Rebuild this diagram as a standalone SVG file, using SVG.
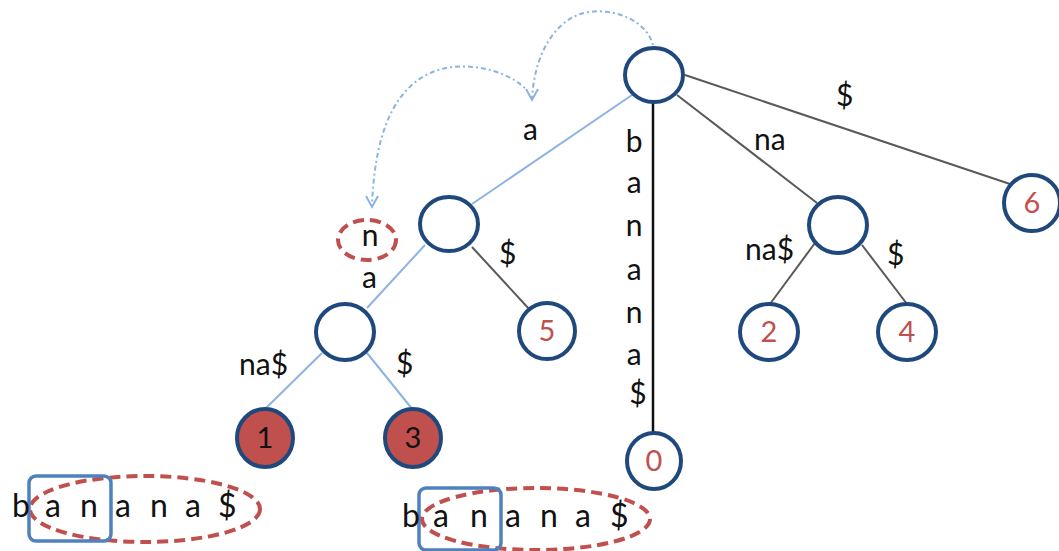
<svg xmlns="http://www.w3.org/2000/svg" width="1059" height="551" viewBox="0 0 1059 551">
  <style>
    .node { fill: #ffffff; stroke: #1F497D; stroke-width: 4; }
    .hit { fill: #C0504D; stroke: #1F497D; stroke-width: 4; }
    .num { font-family: Lato, "Liberation Sans", sans-serif; font-size: 29px; fill: #C0504D; text-anchor: middle; }
    .numk { font-family: Lato, "Liberation Sans", sans-serif; font-size: 29px; fill: #111111; text-anchor: middle; }
    .lbl { font-family: Lato, "Liberation Sans", sans-serif; font-size: 30px; fill: #111111; }
    .word { font-family: Lato, "Liberation Sans", sans-serif; font-size: 32px; fill: #111111; }
    .blue { stroke: #8DB3E2; stroke-width: 2; fill: none; }
    .gray { stroke: #595959; stroke-width: 2; fill: none; }
    .link { stroke: #8DB3E2; stroke-width: 2; fill: none; stroke-dasharray: 2 3 5 3; }
    .ring { fill: none; stroke: #C0504D; stroke-width: 4; stroke-dasharray: 11 6; }
    .box { fill: none; stroke: #4F81BD; stroke-width: 3.5; }
  </style>

  <!-- tree edges -->
  <g id="edges">
    <line class="blue" x1="632" y1="95" x2="472" y2="204"/>
    <line class="blue" x1="425" y1="245" x2="367" y2="308"/>
    <line class="blue" x1="322" y1="353" x2="264" y2="410"/>
    <line class="blue" x1="367" y1="353" x2="413" y2="410"/>
    <line class="gray" x1="472" y1="247" x2="530" y2="310"/>
    <line class="gray" x1="685" y1="75" x2="1010" y2="184"/>
    <line class="gray" x1="677" y1="95" x2="817" y2="203"/>
    <line class="gray" x1="815" y1="243" x2="770" y2="304"/>
    <line class="gray" x1="862" y1="245" x2="907" y2="304"/>
    <line x1="653" y1="102" x2="653" y2="434" stroke="#111111" stroke-width="2.5"/>

    <!-- suffix links -->
    <path class="link" d="M653,45 C645,16 605,6 580,14 C552,24 534,58 532,99"/>
    <polyline points="526,89 532,100 538,89" fill="none" stroke="#8DB3E2" stroke-width="2"/>
    <path class="link" d="M525,88 C505,70 472,63 446,68 C402,77 375,120 372,206"/>
    <polyline points="366,196 372,207 378,196" fill="none" stroke="#8DB3E2" stroke-width="2"/>
  </g>

  <!-- edge labels -->
  <g id="labels">
    <text class="lbl" x="523" y="140">a</text>
    <text class="lbl" x="499" y="264">$</text>
    <text class="lbl" x="362" y="288">a</text>
    <text class="lbl" x="239" y="375">na$</text>
    <text class="lbl" x="396" y="374">$</text>
    <text class="lbl" x="836" y="106">$</text>
    <text class="lbl" x="754" y="150">na</text>
    <text class="lbl" x="745" y="260">na$</text>
    <text class="lbl" x="887" y="265">$</text>
    <text class="lbl" x="638" text-anchor="middle">
      <tspan x="638" y="152">b</tspan>
      <tspan x="638" y="193">a</tspan>
      <tspan x="638" y="236">n</tspan>
      <tspan x="638" y="280">a</tspan>
      <tspan x="638" y="323">n</tspan>
      <tspan x="638" y="365">a</tspan>
      <tspan x="638" y="404">$</tspan>
    </text>
  </g>

  <g id="root"><ellipse class="node" cx="654" cy="75" rx="29" ry="27"/></g>
  <g id="node-a"><ellipse class="node" cx="449" cy="224" rx="29" ry="27"/></g>
  <g id="node-ana"><ellipse class="node" cx="345" cy="332" rx="29" ry="28"/></g>
  <g id="node-na"><ellipse class="node" cx="838" cy="225" rx="29" ry="28"/></g>
  <g id="leaf-1"><ellipse class="hit" cx="265" cy="438" rx="28" ry="29"/><text class="numk" x="265" y="448">1</text></g>
  <g id="leaf-3"><ellipse class="hit" cx="413" cy="438" rx="28" ry="29"/><text class="numk" x="413" y="448">3</text></g>
  <g id="leaf-5"><ellipse class="node" cx="547" cy="331" rx="28" ry="28"/><text class="num" x="547" y="341">5</text></g>
  <g id="leaf-0"><ellipse class="node" cx="654" cy="461" rx="27" ry="28"/><text class="num" x="654" y="471">0</text></g>
  <g id="leaf-2"><ellipse class="node" cx="769" cy="332" rx="29" ry="28"/><text class="num" x="769" y="342">2</text></g>
  <g id="leaf-4"><ellipse class="node" cx="907" cy="332" rx="29" ry="28"/><text class="num" x="907" y="342">4</text></g>
  <g id="leaf-6"><ellipse class="node" cx="1032" cy="203" rx="28" ry="28"/><text class="num" x="1032" y="213">6</text></g>

  <!-- current character marker -->
  <g id="char-n">
    <ellipse class="ring" cx="367" cy="240" rx="29" ry="20"/>
    <text class="lbl" x="370" y="246" text-anchor="middle">n</text>
  </g>

  <!-- input strings -->
  <g id="string-left">
    <ellipse class="ring" cx="145" cy="509" rx="115" ry="33"/>
    <rect class="box" x="29" y="476" width="82" height="65" rx="7"/>
    <text class="word" x="12 45 80 115 150 185 218" y="517">banana$</text>
  </g>
  <g id="string-right">
    <ellipse class="ring" cx="536" cy="519" rx="114" ry="31"/>
    <rect class="box" x="419" y="488" width="82" height="62" rx="7"/>
    <text class="word" x="402 433 470 505 540 575 610" y="527">banana$</text>
  </g>
</svg>
